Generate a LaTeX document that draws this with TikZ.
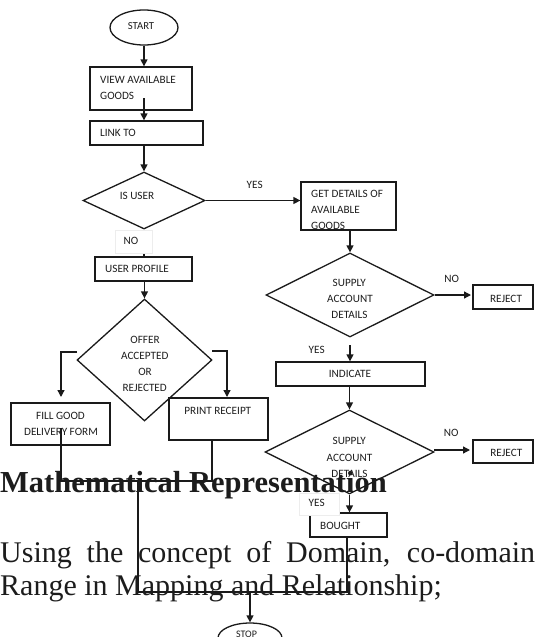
\documentclass[tikz,border=0pt]{standalone}
\usepackage{fontspec}
\setmainfont{Liberation Serif}
\newfontfamily\fcfont{Carlito}
\usetikzlibrary{shapes.geometric,arrows.meta}
\definecolor{ln}{HTML}{1A1A1A}
\definecolor{tx}{HTML}{1E1E1E}
\definecolor{big}{HTML}{1C1C1C}
\begin{document}
\begin{tikzpicture}[x=1pt,y=-1pt,
  box/.style={draw=ln, line width=1.3pt, fill=white, rectangle, inner sep=0pt},
  dia/.style={draw=ln, line width=1.3pt, fill=white, diamond, inner sep=0pt},
  oval/.style={draw=ln, line width=1.3pt, fill=white, ellipse, inner sep=0pt},
  ft/.style={font=\fcfont\fontsize{11.2}{13}\selectfont, text=tx, inner sep=0pt, anchor=base},
  fl/.style={ft, anchor=base west},
  conn/.style={draw=ln, line width=1.3pt},
  arr/.style={conn, -{Triangle[length=7pt,width=7pt]}},
  lblbox/.style={fill=white, draw=black!7, line width=0.5pt, inner sep=0pt},
  bigt/.style={font=\fontsize{30}{33}\selectfont, text=big, inner sep=0pt, anchor=base west},
]
\useasboundingbox (0,0) rectangle (536,637);

% shapes
\node[oval, minimum width=68pt, minimum height=35pt] (start) at (144,27.5) {};
\node[box, minimum width=102pt, minimum height=43pt] (view) at (141,88.5) {};
\node[box, minimum width=113pt, minimum height=24pt] (link) at (146.5,133) {};
\node[dia, minimum width=122pt, minimum height=57pt] (isuser) at (144,200.5) {};
\node[box, minimum width=95pt, minimum height=48pt] (get) at (348.5,206) {};
\node[box, minimum width=97pt, minimum height=24pt] (prof) at (143.5,269) {};
\node[dia, minimum width=135pt, minimum height=122pt] (offer) at (144.5,360) {};
\node[box, minimum width=99pt, minimum height=42pt] (fill) at (60.5,424) {};
\node[box, minimum width=99pt, minimum height=42pt] (print) at (218.5,419) {};
\node[dia, minimum width=168pt, minimum height=84pt] (sad1) at (350,295) {};
\node[box, minimum width=60pt, minimum height=24pt] (rej1) at (503,297) {};
\node[box, minimum width=149pt, minimum height=24pt] (ind) at (350.5,374) {};
\node[dia, minimum width=169pt, minimum height=84pt] (sad2) at (349.5,452) {};
\node[box, minimum width=60pt, minimum height=23pt] (rej2) at (503,451.5) {};
\node[box, minimum width=77pt, minimum height=24pt] (bought) at (348.5,525) {};
\node[oval, minimum width=64pt, minimum height=30pt] (stop) at (250,638) {};

% coordinates
\coordinate (v1) at (144,98);
\coordinate (ol) at (77,352);
\coordinate (olc) at (61,352);
\coordinate (olt) at (61,397);
\coordinate (orr) at (212,351);
\coordinate (orc) at (227,351);
\coordinate (ort) at (227,397);
\coordinate (r1) at (471,295);
\coordinate (y2a) at (350,345);
\coordinate (s2e) at (434,450);
\coordinate (r2) at (470,450);
\coordinate (f1) at (61,428);
\coordinate (f2) at (61,481);
\coordinate (p2) at (212,481);
\coordinate (p1) at (212,440);
\coordinate (m1) at (138,481);
\coordinate (m2) at (138,592);
\coordinate (b2) at (347,592);
\coordinate (b1) at (347,537);
\coordinate (s1) at (250,592);

% connectors
\draw[arr] (start.south) -- (view.north -| start.south);
\draw[arr] (v1) -- (v1 |- link.north);
\draw[arr] (isuser.north |- link.south) -- (isuser.north);
\draw[arr] (isuser.east) -- (isuser.east -| get.west);
\draw[conn] (isuser.south) -- (isuser.south |- prof.north);
\draw[arr] (offer.north |- prof.south) -- (offer.north);
\draw[arr] (ol) -- (olc) -- (olt);
\draw[arr] (orr) -- (orc) -- (ort);
\draw[arr] (sad1.north |- get.south) -- (sad1.north);
\draw[arr] (sad1.east) -- (r1);
\draw[arr] (y2a) -- (y2a |- ind.north);
\draw[arr] (sad2.north |- ind.south) -- (sad2.north);
\draw[arr] (s2e) -- (r2);
\draw[arr] (sad2.south) -- (sad2.south |- bought.north);
\draw[conn] (f1) -- (f2) -- (p2) -- (p1);
\draw[conn] (m1) -- (m2) -- (b2) -- (b1);
\draw[arr] (s1) -- (stop.north);

% label backgrounds
\node[lblbox, minimum width=37pt, minimum height=23pt] (no1bg) at (133.5,241.5) {};
\node[lblbox, minimum width=40pt, minimum height=22pt] (yes3bg) at (319,504) {};

% flowchart texts
\node[ft, font=\fcfont\fontsize{10.7}{12}\selectfont] (tstart) at (141,29.3) {START};
\node[fl] (tview1) at (100,83.6) {VIEW AVAILABLE};
\node[fl] (tview2) at (100,99.6) {GOODS};
\node[fl] (tlink) at (100,136.3) {LINK TO};
\node[ft] (tisuser) at (137,199.6) {IS USER};
\node[ft] (tyes1) at (254.7,188.1) {YES};
\node[ft] (tno1) at (131,244.6) {NO};
\node[fl] (tprof) at (105,272.6) {USER PROFILE};
\node[ft] (toff1) at (145,343.3) {OFFER};
\node[ft] (toff2) at (144.8,359.4) {ACCEPTED};
\node[ft] (toff3) at (145,375.6) {OR};
\node[ft] (toff4) at (144.7,391.4) {REJECTED};
\node[ft] (tfill1) at (60.5,419.1) {FILL GOOD};
\node[ft] (tfill2) at (61,435.3) {DELIVERY FORM};
\node[ft] (tprint) at (217.8,414.4) {PRINT RECEIPT};
\node[fl] (tget1) at (311,197.3) {GET DETAILS OF};
\node[fl] (tget2) at (311,213.6) {AVAILABLE};
\node[fl] (tget3) at (311,229.9) {GOODS};
\node[ft] (tsa1) at (349.3,286.9) {SUPPLY};
\node[ft] (tsa2) at (350,302.4) {ACCOUNT};
\node[ft] (tsa3) at (349.5,318.6) {DETAILS};
\node[ft] (tno2) at (451.7,282.4) {NO};
\node[ft] (trej1) at (506,302.4) {REJECT};
\node[ft] (tyes2) at (316.7,353.1) {YES};
\node[ft] (tind) at (350,377.8) {INDICATE};
\node[ft] (tsb1) at (349.2,444.9) {SUPPLY};
\node[ft] (tsb2) at (349.5,461.1) {ACCOUNT};
\node[ft] (tsb3) at (349.5,477.3) {DETAILS};
\node[ft] (tno3) at (451.3,436.4) {NO};
\node[ft] (trej2) at (506.3,456.1) {REJECT};
\node[ft] (tyes3) at (316.7,506.1) {YES};
\node[fl] (tbought) at (320,529.4) {BOUGHT};
\node[ft, font=\fcfont\fontsize{10}{12}\selectfont] (tstop) at (246.5,637.2) {STOP};

% overlaid page text
\node[bigt, font=\bfseries\fontsize{30.5}{33}\selectfont] (mr) at (0,492) {Mathematical Representation};
\node[bigt] (u1) at (0,562) {\makebox[535pt][s]{Using the concept of Domain, co-domain}};
\node[bigt] (u2) at (0,595) {Range in Mapping and Relationship;};
\end{tikzpicture}
\end{document}
